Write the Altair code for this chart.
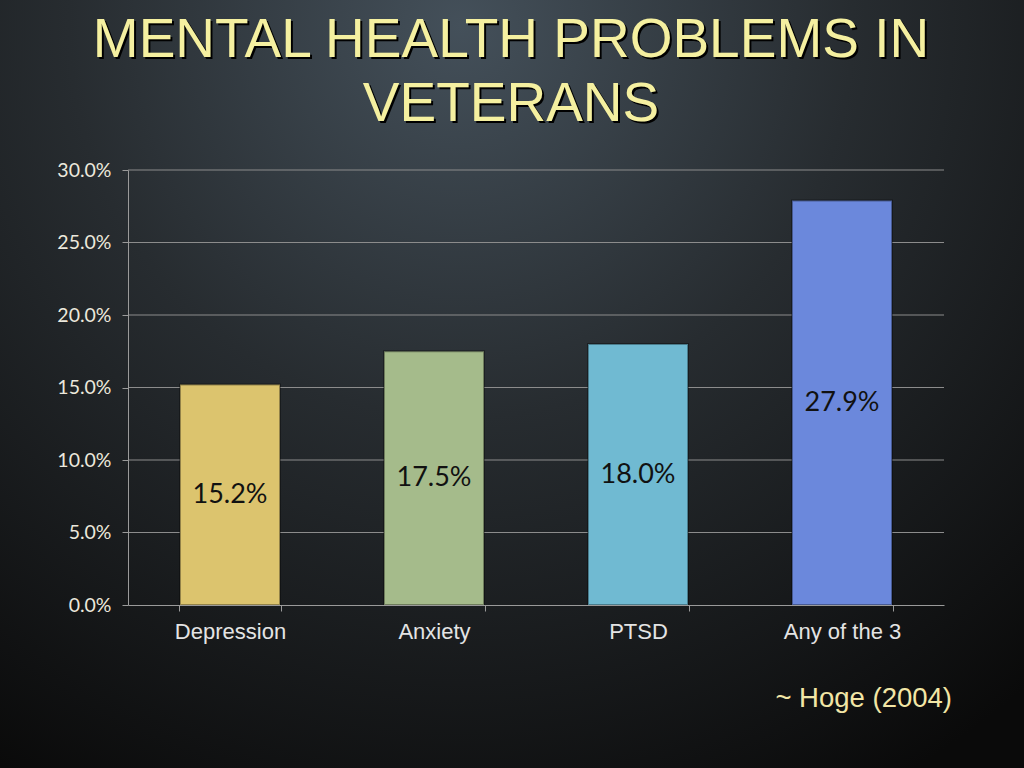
import altair as alt
import pandas as pd

categories = ["Depression", "Anxiety", "PTSD", "Any of the 3"]
values = [0.152, 0.175, 0.180, 0.279]
bar_colors = ["#dcc46e", "#a5bb8b", "#70bad2", "#6b88dc"]
y_ticks = [0, 0.05, 0.10, 0.15, 0.20, 0.25, 0.30]
title_lines = ["MENTAL HEALTH PROBLEMS IN", "VETERANS"]
citation = "~ Hoge (2004)"

df = pd.DataFrame({"category": categories, "value": values})
grid_df = pd.DataFrame({"v": y_ticks[1:]})

W, H = 816, 435
PL, PT = 128, 170

bg = alt.Chart(alt.Data(values=[{}])).mark_rect(
    color=alt.Gradient(
        gradient="radial",
        stops=[
            alt.GradientStop(offset=0, color="#44505a"),
            alt.GradientStop(offset=0.45, color="#272c30"),
            alt.GradientStop(offset=1, color="#0a0a0a"),
        ],
        x1=0.45, y1=0.15, r1=0,
        x2=0.45, y2=0.15, r2=0.85,
    )
).encode(
    x=alt.value(-PL), x2=alt.value(1024 - PL),
    y=alt.value(-PT), y2=alt.value(768 - PT),
)

y_scale = alt.Scale(domain=[0, 0.30], nice=False)
y_axis = alt.Axis(
    format=".1%", values=y_ticks, grid=False, zindex=1,
    labelFont="Lato", labelFontSize=19.5, labelColor="#ece8dc",
    labelPadding=11, tickSize=6, tickColor="#9a9a9a",
    domainColor="#9a9a9a",
)

grid = alt.Chart(grid_df).mark_rule(color="#8c8c8c", strokeWidth=1.2).encode(
    y=alt.Y("v:Q", scale=y_scale, axis=y_axis, title=None),
    x=alt.value(0), x2=alt.value(W),
)

x_enc = alt.X(
    "category:N", sort=categories, title=None,
    scale=alt.Scale(paddingInner=0.5, paddingOuter=0.25),
    axis=alt.Axis(
        labelAngle=0, labelFont="Liberation Sans", labelFontSize=22,
        labelColor="#e4e4e4", labelPadding=10, tickBand="extent",
        tickSize=6, tickColor="#9a9a9a", domainColor="#9a9a9a", grid=False,
        zindex=1,
    ),
)

bars = alt.Chart(df).mark_bar(size=100, stroke="#00000055", strokeWidth=2).encode(
    x=x_enc,
    y=alt.Y("value:Q", scale=y_scale, title=None, axis=y_axis),
    color=alt.Color("category:N", scale=alt.Scale(domain=categories, range=bar_colors), legend=None),
)

labels = alt.Chart(df).transform_calculate(mid="datum.value / 2").mark_text(
    font="Lato", fontSize=27, color="#111111", baseline="middle", align="center"
).encode(
    x=alt.X("category:N", sort=categories),
    y=alt.Y("mid:Q", scale=y_scale),
    text=alt.Text("value:Q", format=".1%"),
)

def text_layer(txt, x, y, color, size, align="center"):
    return alt.Chart(alt.Data(values=[{"t": txt}])).mark_text(
        font="Liberation Sans", fontSize=size, color=color, align=align,
        baseline="alphabetic",
    ).encode(x=alt.value(x), y=alt.value(y), text="t:N")

TX = 511 - PL
title_layers = []
for i, line in enumerate(title_lines):
    by = 57 + i * 64 - PT
    title_layers.append(text_layer(line, TX + 2, by + 2, "#000000", 55))
    title_layers.append(text_layer(line, TX, by, "#f5f0a0", 55))

cite = text_layer(citation, 952 - PL, 707 - PT, "#f2e6a6", 27.5, align="right")

chart = alt.layer(bg, grid, bars, labels, *title_layers, cite).properties(
    width=W, height=H,
    autosize=alt.AutoSizeParams(type="none"),
    padding={"left": PL, "top": PT, "right": 1024 - PL - W, "bottom": 768 - PT - H},
).configure(background="#111111").configure_view(stroke=None)

chart.save("out.html", embed_options={"renderer": "svg", "actions": False})
